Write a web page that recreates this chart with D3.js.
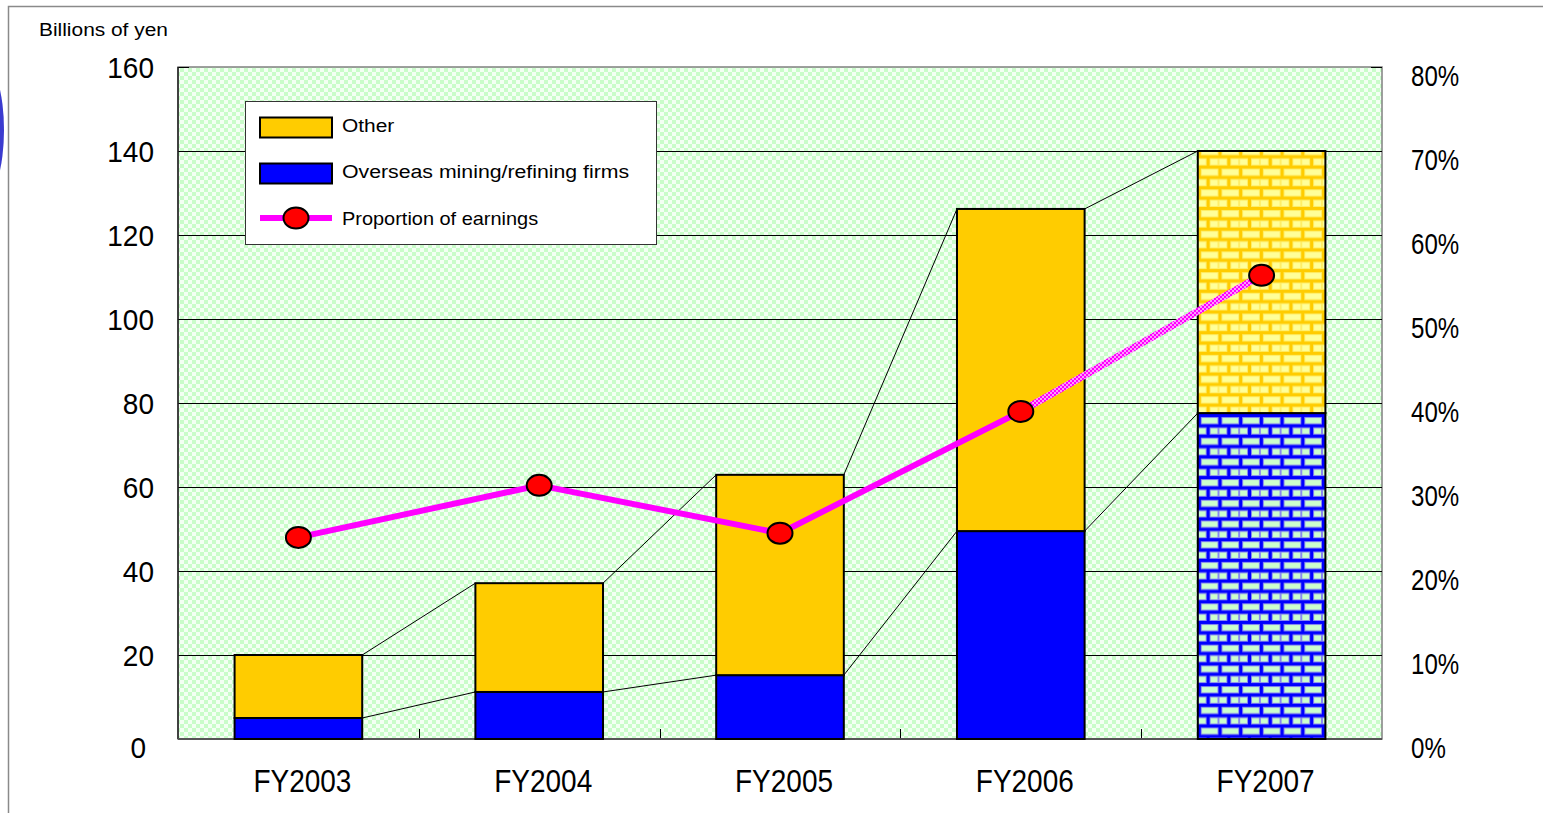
<!DOCTYPE html>
<html>
<head>
<meta charset="utf-8">
<script src="https://cdn.jsdelivr.net/npm/d3@7"></script>
<style>
  html, body { margin: 0; padding: 0; background: #fff; }
  svg { display: block; font-family: "Liberation Sans", Arial, sans-serif; }
</style>
</head>
<body>
<svg id="chart" width="1543" height="813"></svg>
<script>
// Earnings by source, billions of yen, with share of earnings (right axis)
const categories = ["FY2003", "FY2004", "FY2005", "FY2006", "FY2007"];
const overseasMining = [5.0, 11.2, 15.2, 49.5, 77.6];
const otherEarnings = [15.0, 25.9, 47.7, 76.7, 62.4];
const earningsShare = [0.240, 0.302, 0.245, 0.390, 0.552];
const leftTicks = [0, 20, 40, 60, 80, 100, 120, 140, 160];
const rightTicks = [0, 0.1, 0.2, 0.3, 0.4, 0.5, 0.6, 0.7, 0.8];
const forecastIndex = 4; // FY2007 is drawn with hatched fills
const legendItems = ["Other", "Overseas mining/refining firms", "Proportion of earnings"];

const svg = d3.select("#chart");
const plot = { left: 178, right: 1382, top: 67, bottom: 739 };

const x = d3.scaleBand().domain(categories).range([plot.left, plot.right]).padding(0);
const y = d3.scaleLinear().domain([0, 160]).range([plot.bottom, plot.top]);
const y2 = d3.scaleLinear().domain([0, 0.8]).range([plot.bottom, plot.top]);
const barW = x.bandwidth() * 0.53;
const barX = c => x(c) + (x.bandwidth() - barW) / 2;

// ---------- patterns ----------
const defs = svg.append("defs");

const checker = defs.append("pattern").attr("id", "checker")
  .attr("patternUnits", "userSpaceOnUse").attr("width", 8).attr("height", 8);
checker.append("rect").attr("width", 8).attr("height", 8).attr("fill", "#f3fff3");
checker.append("rect").attr("width", 4).attr("height", 4).attr("fill", "#c9fcc9");
checker.append("rect").attr("x", 4).attr("y", 4).attr("width", 4).attr("height", 4).attr("fill", "#c9fcc9");

function brick(id, mortar, edge, face, ox) {
  const w = 20.7, h = 20.7, m = 3;
  const p = defs.append("pattern").attr("id", id)
    .attr("patternUnits", "userSpaceOnUse").attr("width", w).attr("height", h)
    .attr("x", ox).attr("y", 0);
  p.append("rect").attr("width", w).attr("height", h).attr("fill", mortar);
  const rows = [
    [{ x: m, w: w - m }],
    [{ x: 0, w: w / 2 - m / 2 }, { x: w / 2 + m / 2, w: w / 2 - m / 2 }]
  ];
  rows.forEach((row, ri) => {
    row.forEach(b => {
      p.append("rect").attr("x", b.x).attr("y", ri * h / 2 + m)
        .attr("width", b.w).attr("height", h / 2 - m).attr("fill", edge);
      p.append("rect").attr("x", b.x + 1).attr("y", ri * h / 2 + m + 1)
        .attr("width", Math.max(0, b.w - 2)).attr("height", h / 2 - m - 2).attr("fill", face);
    });
  });
}
const fx = barX(categories[forecastIndex]);
brick("brickYellow", "#ffcc00", "#ffee66", "#ffff99", fx);
brick("brickBlue", "#0000ff", "#8888f0", "#ccffcc", fx);

const dotted = defs.append("pattern").attr("id", "dottedLine")
  .attr("patternUnits", "userSpaceOnUse").attr("width", 4).attr("height", 4);
dotted.append("rect").attr("width", 4).attr("height", 4).attr("fill", "#ff99ff");
dotted.append("rect").attr("width", 2).attr("height", 2).attr("fill", "#ff00ff");
dotted.append("rect").attr("x", 2).attr("y", 2).attr("width", 2).attr("height", 2).attr("fill", "#ff00ff");

// ---------- frame & decoration ----------
svg.append("ellipse").attr("cx", -16).attr("cy", 130).attr("rx", 20).attr("ry", 67).attr("fill", "#3b3bcf");
svg.append("path").attr("d", "M8.5,813 V6.5 H1543").attr("fill", "none")
  .attr("stroke", "#8a8a8a").attr("stroke-width", 1.5);

svg.append("text").attr("transform", "translate(39,36) scale(1.1,1)")
  .attr("font-size", 19).attr("fill", "#000").text("Billions of yen");

// ---------- plot area ----------
svg.append("rect").attr("x", plot.left).attr("y", plot.top)
  .attr("width", plot.right - plot.left).attr("height", plot.bottom - plot.top)
  .attr("fill", "url(#checker)").attr("stroke", "#808080").attr("stroke-width", 1.5);

svg.append("g").selectAll("line").data(leftTicks.filter(t => t > 0 && t < 160)).join("line")
  .attr("x1", plot.left).attr("x2", plot.right)
  .attr("y1", d => Math.round(y(d)) + 0.5).attr("y2", d => Math.round(y(d)) + 0.5)
  .attr("stroke", "#000").attr("stroke-width", 1);

// axis ticks (inside)
svg.append("g").selectAll("line").data(leftTicks).join("line")
  .attr("x1", plot.left).attr("x2", plot.left + 11)
  .attr("y1", d => Math.round(y(d)) + 0.5).attr("y2", d => Math.round(y(d)) + 0.5)
  .attr("stroke", "#000");
svg.append("g").selectAll("line").data(rightTicks).join("line")
  .attr("x1", plot.right - 11).attr("x2", plot.right)
  .attr("y1", d => Math.round(y2(d)) + 0.5).attr("y2", d => Math.round(y2(d)) + 0.5)
  .attr("stroke", "#000");
svg.append("g").selectAll("line").data(categories.slice(1)).join("line")
  .attr("x1", d => Math.round(x(d)) + 0.5).attr("x2", d => Math.round(x(d)) + 0.5)
  .attr("y1", plot.bottom - 10).attr("y2", plot.bottom)
  .attr("stroke", "#000");

svg.append("line").attr("x1", plot.left).attr("x2", plot.left)
  .attr("y1", plot.top).attr("y2", plot.bottom).attr("stroke", "#222").attr("stroke-width", 1.5);
svg.append("line").attr("x1", plot.left).attr("x2", plot.right)
  .attr("y1", plot.bottom).attr("y2", plot.bottom).attr("stroke", "#555").attr("stroke-width", 2);

// ---------- series connector lines ----------
const totals = categories.map((c, i) => overseasMining[i] + otherEarnings[i]);
const conn = svg.append("g").attr("stroke", "#000").attr("stroke-width", 1).attr("fill", "none");
for (let i = 0; i < categories.length - 1; i++) {
  [overseasMining[i], totals[i]].forEach((v, k) => {
    const vNext = k === 0 ? overseasMining[i + 1] : totals[i + 1];
    conn.append("line")
      .attr("x1", barX(categories[i]) + barW).attr("y1", y(v))
      .attr("x2", barX(categories[i + 1])).attr("y2", y(vNext));
  });
}

// ---------- bars ----------
const bars = svg.append("g").attr("stroke", "#000").attr("stroke-width", 2);
categories.forEach((c, i) => {
  const hatched = i === forecastIndex;
  bars.append("rect").attr("x", barX(c)).attr("width", barW)
    .attr("y", y(overseasMining[i])).attr("height", y(0) - y(overseasMining[i]))
    .attr("fill", hatched ? "url(#brickBlue)" : "#0000ff");
  bars.append("rect").attr("x", barX(c)).attr("width", barW)
    .attr("y", y(totals[i])).attr("height", y(overseasMining[i]) - y(totals[i]))
    .attr("fill", hatched ? "url(#brickYellow)" : "#ffcc00");
});

// ---------- proportion line ----------
const pts = categories.map((c, i) => [x(c) + x.bandwidth() / 2, y2(earningsShare[i])]);
const lineGen = d3.line();
svg.append("path").attr("d", lineGen(pts.slice(0, forecastIndex)))
  .attr("fill", "none").attr("stroke", "#ff00ff").attr("stroke-width", 6).attr("stroke-linejoin", "round");
svg.append("path").attr("d", lineGen(pts.slice(forecastIndex - 1)))
  .attr("fill", "none").attr("stroke", "url(#dottedLine)").attr("stroke-width", 7);
svg.append("g").selectAll("ellipse").data(pts).join("ellipse")
  .attr("cx", d => d[0]).attr("cy", d => d[1]).attr("rx", 12.5).attr("ry", 10.5)
  .attr("fill", "#ff0000").attr("stroke", "#000").attr("stroke-width", 2);

// ---------- axis labels ----------
svg.append("g").selectAll("text").data(leftTicks).join("text")
  .attr("transform", d => `translate(${d === 0 ? 146 : 154},${y(d) + (d === 0 ? 8 : 0)}) scale(1,1.08)`)
  .attr("text-anchor", "end").attr("dy", "0.36em").attr("font-size", 28).text(d => d);
svg.append("g").selectAll("text").data(rightTicks).join("text")
  .attr("transform", d => `translate(1411,${y2(d) + 8.5}) scale(0.86,1.08)`)
  .attr("dy", "0.36em").attr("font-size", 28).text(d => d3.format(".0%")(d));
svg.append("g").selectAll("text").data(categories).join("text")
  .attr("transform", d => `translate(${x(d) + x.bandwidth() / 2 + 4},${plot.bottom + 42}) scale(1,1.12)`)
  .attr("text-anchor", "middle").attr("dy", "0.36em").attr("font-size", 28).text(d => d);

// ---------- legend ----------
const lg = svg.append("g");
lg.append("rect").attr("x", 245.5).attr("y", 101.5).attr("width", 411).attr("height", 143)
  .attr("fill", "#fff").attr("stroke", "#333").attr("stroke-width", 1);
lg.append("rect").attr("x", 260).attr("y", 117.5).attr("width", 72).attr("height", 20)
  .attr("fill", "#ffcc00").attr("stroke", "#000").attr("stroke-width", 2);
lg.append("rect").attr("x", 260).attr("y", 163.5).attr("width", 72).attr("height", 20)
  .attr("fill", "#0000ff").attr("stroke", "#000").attr("stroke-width", 2);
lg.append("line").attr("x1", 260).attr("x2", 332).attr("y1", 218).attr("y2", 218)
  .attr("stroke", "#ff00ff").attr("stroke-width", 6);
lg.append("ellipse").attr("cx", 296).attr("cy", 218).attr("rx", 12.5).attr("ry", 10.5)
  .attr("fill", "#ff0000").attr("stroke", "#000").attr("stroke-width", 2);
lg.selectAll("text.item").data(legendItems).join("text").attr("class", "item")
  .attr("transform", (d, i) => `translate(342,${[125, 171, 218][i]}) scale(${[1.1, 1.12, 1.05][i]},1)`)
  .attr("dy", "0.36em").attr("font-size", 19).text(d => d);
</script>
</body>
</html>
